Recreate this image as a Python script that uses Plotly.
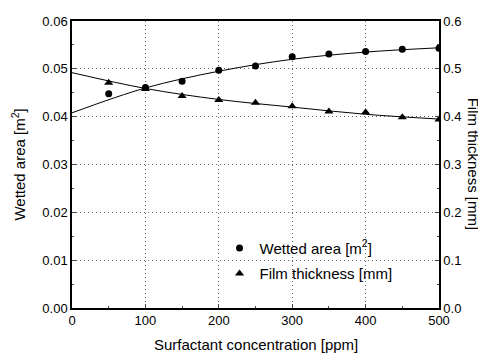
import plotly.graph_objects as go

conc = [50, 100, 150, 200, 250, 300, 350, 400, 450, 500]
wetted_area = [0.0448, 0.0461, 0.0474, 0.0497, 0.0506, 0.0525, 0.0531, 0.0536, 0.0541, 0.0543]
film_thickness = [0.471, 0.458, 0.443, 0.435, 0.429, 0.422, 0.411, 0.409, 0.399, 0.394]

fit_x = [0, 100, 200, 300, 400, 500]
fit_area = [0.0408, 0.0460, 0.0495, 0.0520, 0.0535, 0.0544]
fit_thick = [0.492, 0.459, 0.436, 0.420, 0.405, 0.395]

FONT = "Liberation Sans, Arial, sans-serif"

fig = go.Figure()
fig.add_trace(go.Scatter(x=fit_x, y=fit_area, mode="lines", line=dict(color="black", width=1, shape="spline"),
                         showlegend=False, hoverinfo="skip"))
fig.add_trace(go.Scatter(x=fit_x, y=fit_thick, mode="lines", line=dict(color="black", width=1, shape="spline"),
                         showlegend=False, hoverinfo="skip", yaxis="y2"))
fig.add_trace(go.Scatter(x=conc, y=wetted_area, mode="markers", name="Wetted area [m<sup>2</sup>]",
                         marker=dict(symbol="circle", size=7, color="black"), legendgroup="a"))
fig.add_trace(go.Scatter(x=conc, y=film_thickness, mode="markers", name="Film thickness [mm]",
                         marker=dict(symbol="triangle-up", size=8, color="black"), legendgroup="b", yaxis="y2"))

grid = dict(showgrid=True, gridcolor="#666", griddash="1px,3px", gridwidth=1)

# the page body has an 8px default margin, so the figure is 8px smaller and offset
fig.update_layout(
    width=478, height=355,
    margin=dict(l=64, r=47, t=6, b=55),
    paper_bgcolor="white", plot_bgcolor="white",
    font=dict(family=FONT, size=13, color="black"),
    showlegend=True,
    legend=dict(x=0.402, y=0.266, xanchor="left", yanchor="top", bgcolor="rgba(0,0,0,0)",
                font=dict(size=15), tracegroupgap=3, itemwidth=30),
    xaxis=dict(range=[0, 500], dtick=100, tickformat="d", ticks="inside", ticklen=4,
               showline=True, linecolor="black", linewidth=1.5, mirror=True, zeroline=False,
               minor=dict(ticks="inside", ticklen=2, dtick=50, showgrid=False), **grid),
    yaxis=dict(range=[0, 0.06], dtick=0.01, tickformat=".2f", ticks="inside", ticklen=4,
               showline=True, linecolor="black", linewidth=1.5, mirror=True, zeroline=False,
               minor=dict(ticks="inside", ticklen=2, dtick=0.005, showgrid=False), **grid),
    yaxis2=dict(range=[0, 0.6], dtick=0.1, tickformat=".1f", ticks="inside", ticklen=4,
                overlaying="y", side="right", showgrid=False, zeroline=False,
                showline=True, linecolor="black", linewidth=1.5,
                minor=dict(ticks="inside", ticklen=2, dtick=0.05)),
    annotations=[
        dict(text="Wetted area [m<sup>2</sup>]", xref="paper", yref="paper", x=-0.147, y=0.5,
             textangle=-90, showarrow=False, font=dict(size=15), xanchor="center", yanchor="middle"),
        dict(text="Film thickness [mm]", xref="paper", yref="paper", x=1.095, y=0.5,
             textangle=90, showarrow=False, font=dict(size=15), xanchor="center", yanchor="middle"),
        dict(text="Surfactant concentration [ppm]", xref="paper", yref="paper", x=0.5, y=-0.126,
             showarrow=False, font=dict(size=15), xanchor="center", yanchor="middle"),
    ],
)

fig.write_html("out.html")
